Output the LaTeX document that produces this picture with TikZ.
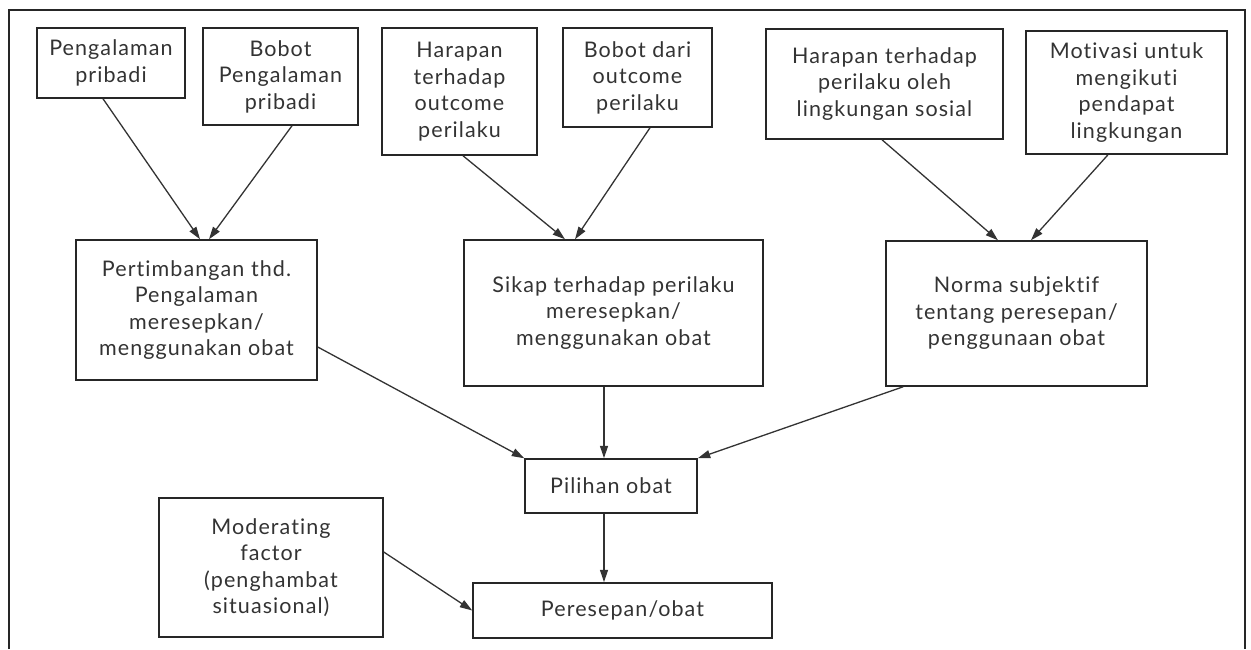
\documentclass[tikz,border=0pt]{standalone}
\usepackage{fontspec}
\setmainfont{Lato}[LetterSpace=5,Ligatures={NoCommon,NoContextual}]
\usetikzlibrary{arrows.meta,calc}
\begin{document}
\begin{tikzpicture}[x=1pt,y=-1pt,
  box/.style={draw=black!85,line width=1.5pt,rectangle,inner sep=0pt,align=center,
    text=black!80,font=\fontsize{21.5}{26.5}\selectfont},
  arr/.style={draw=black!80,line width=1.3pt,-{Triangle[length=12.5pt,width=8pt]}}]
\useasboundingbox (0,0) rectangle (1251,649);
\draw[black!85,line width=1.6pt] (9,649) -- (9,10) -- (1245,10) -- (1245,649);
% top row
\node[box,minimum width=148pt,minimum height=70pt] (A) at (111,63) {Pengalaman\\pribadi};
\node[box,minimum width=155pt,minimum height=97pt] (B) at (280.5,76.5) {Bobot\\Pengalaman\\pribadi};
\node[box,minimum width=155pt,minimum height=127pt] (C) at (459.5,91.5) {Harapan\\terhadap\\outcome\\perilaku};
\node[box,minimum width=149pt,minimum height=99pt] (D) at (637.5,77.5) {Bobot dari\\outcome\\perilaku};
\node[box,minimum width=237pt,minimum height=110pt] (E) at (884.5,84) {Harapan terhadap\\perilaku oleh\\lingkungan sosial};
\node[box,minimum width=201pt,minimum height=123pt] (F) at (1126.5,92.5) {Motivasi untuk\\mengikuti\\pendapat\\lingkungan};
% middle row
\node[box,minimum width=241pt,minimum height=140pt] (P) at (196.5,310) {Pertimbangan thd.\\Pengalaman\\meresepkan/\\menggunakan obat};
\node[box,minimum width=299pt,minimum height=146pt] (S) at (613.5,313) {Sikap terhadap perilaku\\meresepkan/\\menggunakan obat};
\node[box,minimum width=261pt,minimum height=145pt] (N) at (1016.5,313.5) {Norma subjektif\\tentang peresepan/\\penggunaan obat};
% lower
\node[box,minimum width=172pt,minimum height=54pt] (Q) at (611,486) {Pilihan obat};
\node[box,minimum width=224pt,minimum height=139pt] (M) at (271,567.5) {Moderating\\factor\\(penghambat\\situasional)};
\node[box,minimum width=299pt,minimum height=55pt] (R) at (622.5,610.5) {Peresepan/obat};
% connectors
\draw[arr] ([xshift=-8pt]A.south) -- ([xshift=3.5pt]P.north);
\draw[arr] ([xshift=11.5pt]B.south) -- ([xshift=12.5pt]P.north);
\draw[arr] ([xshift=3.5pt]C.south) -- ([xshift=-48.5pt]S.north);
\draw[arr] ([xshift=12.5pt]D.south) -- ([xshift=-38.5pt]S.north);
\draw[arr] ([xshift=-2.5pt]E.south) -- ([xshift=-18.5pt]N.north);
\draw[arr] ([xshift=-18.5pt]F.south) -- ([xshift=14.5pt]N.north);
\draw[arr] ([yshift=-37pt]P.east) -- (Q.north west);
\draw[arr] ([xshift=-9.5pt]S.south) -- ([xshift=-9.5pt]S.south |- Q.north);
\draw[arr] ([xshift=18pt]N.south west) -- (Q.north east);
\draw[arr] ([xshift=-7pt]Q.south) -- ([xshift=-7pt]Q.south |- R.north);
\draw[arr] ([yshift=15.5pt]M.east) -- (R.west);
\end{tikzpicture}
\end{document}
